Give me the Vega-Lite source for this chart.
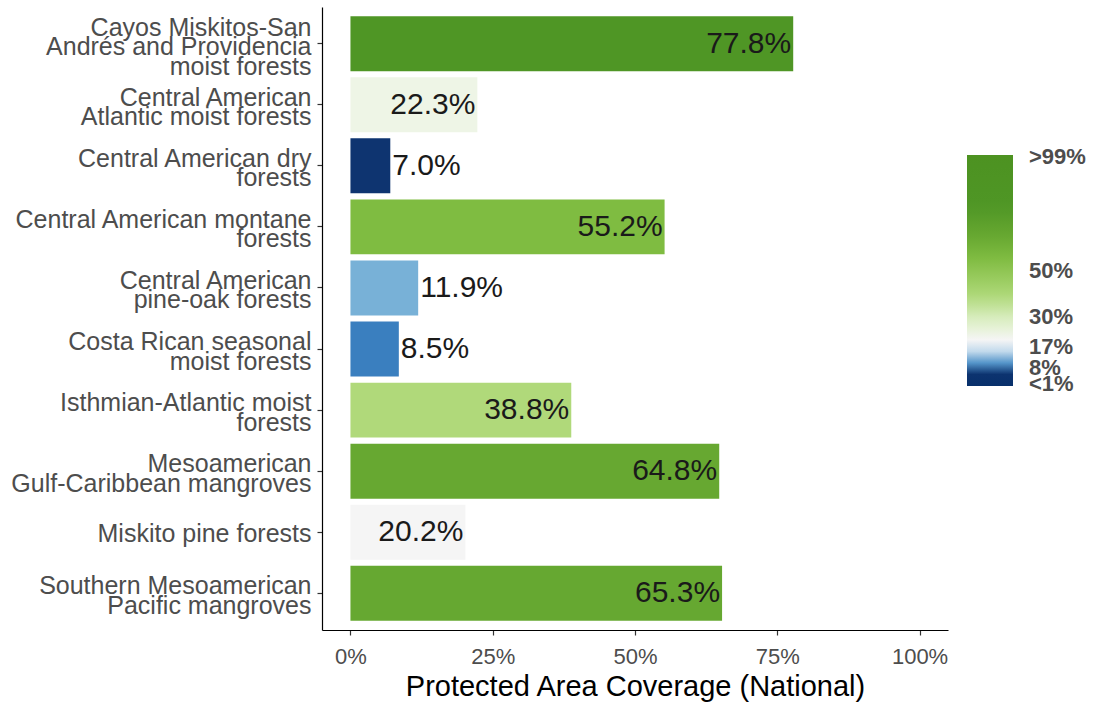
{
  "$schema": "https://vega.github.io/schema/vega-lite/v6.json",
  "width": 626,
  "height": 623,
  "autosize": "none",
  "padding": {"left": 322, "top": 7, "right": 147, "bottom": 72},
  "background": "white",
  "config": {"view": {"stroke": null}, "font": "Liberation Sans"},
  "data": {
    "values": [
      {"ecoregion": "Cayos Miskitos-San|Andrés and Providencia|moist forests", "coverage": 0.778},
      {"ecoregion": "Central American|Atlantic moist forests", "coverage": 0.223},
      {"ecoregion": "Central American dry|forests", "coverage": 0.070},
      {"ecoregion": "Central American montane|forests", "coverage": 0.552},
      {"ecoregion": "Central American|pine-oak forests", "coverage": 0.119},
      {"ecoregion": "Costa Rican seasonal|moist forests", "coverage": 0.085},
      {"ecoregion": "Isthmian-Atlantic moist|forests", "coverage": 0.388},
      {"ecoregion": "Mesoamerican|Gulf-Caribbean mangroves", "coverage": 0.648},
      {"ecoregion": "Miskito pine forests", "coverage": 0.202},
      {"ecoregion": "Southern Mesoamerican|Pacific mangroves", "coverage": 0.653}
    ]
  },
  "encoding": {
    "y": {
      "field": "ecoregion",
      "type": "nominal",
      "sort": null,
      "scale": {"paddingInner": 0.1, "paddingOuter": 0.15},
      "axis": {
        "title": null,
        "labelExpr": "split(datum.label, '|')",
        "labelFontSize": 25,
        "labelLineHeight": 19.5,
        "labelColor": "#4d4d4d",
        "labelLimit": 400,
        "labelPadding": 6,
        "labelBaseline": "middle",
        "labelOffset": {
          "condition": [
            {"test": "length(split(datum.value, '|')) >= 3", "value": -16},
            {"test": "length(split(datum.value, '|')) == 2", "value": -7}
          ],
          "value": 2
        },
        "domainColor": "#000000",
        "domainWidth": 1.2,
        "tickColor": "#333333",
        "tickSize": 5,
        "tickWidth": 1.2
      }
    },
    "x": {
      "field": "coverage",
      "type": "quantitative",
      "scale": {"domain": [-0.05, 1.05], "nice": false, "zero": false},
      "axis": {
        "title": "Protected Area Coverage (National)",
        "titleFontSize": 29,
        "titleFontWeight": "normal",
        "titleColor": "#000000",
        "titlePadding": 5,
        "values": [0, 0.25, 0.5, 0.75, 1],
        "format": ".0%",
        "labelFontSize": 22,
        "labelColor": "#4d4d4d",
        "labelPadding": 11,
        "grid": false,
        "domainColor": "#000000",
        "domainWidth": 1.2,
        "tickColor": "#333333",
        "tickSize": 5,
        "tickWidth": 1.2
      }
    }
  },
  "layer": [
    {
      "mark": {"type": "bar"},
      "encoding": {
        "x2": {"datum": 0},
        "color": {
          "field": "coverage",
          "type": "quantitative",
          "scale": {
            "domain": [0, 0.07, 0.085, 0.119, 0.17, 0.202, 0.223, 0.3, 0.388, 0.552, 0.65, 0.778, 1],
            "range": ["#08306b", "#0e3470", "#3a7fbf", "#78b1d7", "#f2f5fa", "#f5f5f5", "#eef5e6", "#d6ecbb", "#b0d97a", "#7fbc41", "#67a831", "#4f9625", "#4d9221"],
            "interpolate": "rgb"
          },
          "legend": {
            "title": null,
            "orient": "none",
            "legendX": 645,
            "legendY": 148,
            "direction": "vertical",
            "gradientLength": 231,
            "gradientThickness": 46,
            "gradientStrokeWidth": 0,
            "values": [0.01, 0.08, 0.17, 0.3, 0.5, 0.99],
            "labelExpr": "datum.value <= 0.01 ? '<1%' : datum.value >= 0.99 ? '>99%' : format(datum.value, '.0%')",
            "labelFontSize": 22,
            "labelFontWeight": "bold",
            "labelColor": "#4d4d4d",
            "labelOffset": 16,
            "labelOverlap": false
          }
        }
      }
    },
    {
      "transform": [{"filter": "datum.coverage >= 0.15"}],
      "mark": {"type": "text", "align": "right", "baseline": "middle", "dx": -2, "fontSize": 30, "color": "#1a1a1a"},
      "encoding": {"text": {"field": "coverage", "type": "quantitative", "format": ".1%"}}
    },
    {
      "transform": [{"filter": "datum.coverage < 0.15"}],
      "mark": {"type": "text", "align": "left", "baseline": "middle", "dx": 2, "fontSize": 30, "color": "#1a1a1a"},
      "encoding": {"text": {"field": "coverage", "type": "quantitative", "format": ".1%"}}
    }
  ]
}
